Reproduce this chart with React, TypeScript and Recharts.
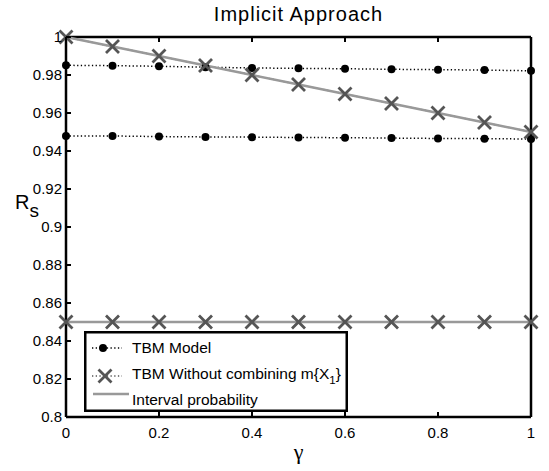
import { LineChart, Line, XAxis, YAxis, Legend } from 'recharts'

const gamma = [0, 0.1, 0.2, 0.3, 0.4, 0.5, 0.6, 0.7, 0.8, 0.9, 1]
const tbmUpper = [0.9851, 0.9849, 0.9846, 0.9841, 0.9837, 0.9835, 0.9833, 0.983, 0.9828, 0.9826, 0.9822]
const tbmLower = [0.9479, 0.9479, 0.9476, 0.9474, 0.9473, 0.9471, 0.947, 0.9468, 0.9466, 0.9465, 0.9463]
const withoutUpper = [1, 0.995, 0.99, 0.985, 0.98, 0.975, 0.97, 0.965, 0.96, 0.955, 0.95]
const withoutLower = [0.85, 0.85, 0.85, 0.85, 0.85, 0.85, 0.85, 0.85, 0.85, 0.85, 0.85]
const intervalUpper = [1, 0.995, 0.99, 0.985, 0.98, 0.975, 0.97, 0.965, 0.96, 0.955, 0.95]
const intervalLower = [0.85, 0.85, 0.85, 0.85, 0.85, 0.85, 0.85, 0.85, 0.85, 0.85, 0.85]

const xTicks = [0, 0.2, 0.4, 0.6, 0.8, 1]
const yTicks = [0.8, 0.82, 0.84, 0.86, 0.88, 0.9, 0.92, 0.94, 0.96, 0.98, 1]

const FONT = '"Liberation Sans", Arial, Helvetica, sans-serif'
const X_COLOR = '#555555'
const IP_COLOR = '#999999'
const DOTTED = '1.3 2.4'

const data = gamma.map((g, i) => ({
  g,
  tbmUpper: tbmUpper[i],
  tbmLower: tbmLower[i],
  withoutUpper: withoutUpper[i],
  withoutLower: withoutLower[i],
  intervalUpper: intervalUpper[i],
  intervalLower: intervalLower[i],
}))

const TICK_LEN = 5
const AXIS = { stroke: '#000', strokeWidth: 2.5 }

const LeftTick = ({ x, y, payload }: any) => (
  <g>
    <line x1={x} x2={x + TICK_LEN} y1={y} y2={y} stroke="#000" strokeWidth={2} />
    <text x={x - 4} y={y} dy="0.36em" textAnchor="end" fontSize={15} fontFamily={FONT} fill="#000">
      {String(payload.value)}
    </text>
  </g>
)

const RightTick = ({ x, y }: any) => (
  <line x1={x - TICK_LEN} x2={x} y1={y} y2={y} stroke="#000" strokeWidth={2} />
)

const BottomTick = ({ x, y, payload }: any) => (
  <g>
    <line x1={x} x2={x} y1={y} y2={y - TICK_LEN} stroke="#000" strokeWidth={2} />
    <text x={x} y={y + 21} textAnchor="middle" fontSize={15} fontFamily={FONT} fill="#000">
      {String(payload.value)}
    </text>
  </g>
)

const TopTick = ({ x, y }: any) => (
  <line x1={x} x2={x} y1={y} y2={y + TICK_LEN} stroke="#000" strokeWidth={2} />
)

const CrossDot = ({ cx, cy, index }: any) => (
  <path
    key={`x-${index}`}
    d={`M${cx - 6.5},${cy - 6.5}L${cx + 6.5},${cy + 6.5}M${cx + 6.5},${cy - 6.5}L${cx - 6.5},${cy + 6.5}`}
    stroke={X_COLOR}
    strokeWidth={2.8}
    fill="none"
  />
)

const LegendBox = () => (
  <svg width={264} height={81} style={{ display: 'block' }}>
    <rect x={1.25} y={1.25} width={261.5} height={78.5} fill="#fff" stroke="#000" strokeWidth={2.5} />
    <line x1={8} x2={38} y1={17} y2={17} stroke="#000" strokeWidth={1.5} strokeDasharray={DOTTED} />
    <circle cx={19} cy={17} r={4} fill="#000" />
    <text x={48} y={22} fontSize={15.5} fontFamily={FONT}>TBM Model</text>
    <line x1={8} x2={38} y1={45} y2={45} stroke={X_COLOR} strokeWidth={1.5} strokeDasharray={DOTTED} />
    <CrossDot cx={21} cy={45} index={0} />
    <text x={48} y={48} fontSize={15.5} fontFamily={FONT}>
      TBM Without combining m{'{'}X<tspan fontSize={11.5} dy={5}>1</tspan><tspan dy={-5}>{'}'}</tspan>
    </text>
    <line x1={9} x2={45} y1={63} y2={63} stroke={IP_COLOR} strokeWidth={2.5} />
    <text x={48} y={74} fontSize={15.5} fontFamily={FONT}>Interval probability</text>
  </svg>
)

export default function App() {
  return (
    <div style={{ position: 'absolute', left: 0, top: 0, background: '#fff' }}>
      <LineChart width={549} height={471} data={data} margin={{ top: 36, right: 17, left: 16, bottom: 24 }}>
        <XAxis
          dataKey="g"
          type="number"
          domain={[0, 1]}
          ticks={xTicks}
          tickSize={0}
          tickMargin={0}
          tick={<BottomTick />}
          axisLine={AXIS}
          height={30}
          label={{
            content: ({ viewBox }: any) => (
              <text
                x={viewBox.x + viewBox.width / 2}
                y={459}
                textAnchor="middle"
                fontSize={22}
                fontFamily='"Liberation Serif", "DejaVu Serif", serif'
              >
                γ
              </text>
            ),
          }}
        />
        <XAxis
          xAxisId="top"
          orientation="top"
          dataKey="g"
          type="number"
          domain={[0, 1]}
          ticks={xTicks}
          tickSize={0}
          tickMargin={0}
          tick={<TopTick />}
          axisLine={AXIS}
          height={1}
          label={{
            content: ({ viewBox }: any) => (
              <text
                x={viewBox.x + viewBox.width / 2}
                y={21}
                textAnchor="middle"
                fontSize={20}
                letterSpacing={1}
                fontFamily={FONT}
              >
                Implicit Approach
              </text>
            ),
          }}
        />
        <YAxis
          type="number"
          domain={[0.8, 1]}
          ticks={yTicks}
          tickSize={0}
          tickMargin={0}
          tick={<LeftTick />}
          axisLine={AXIS}
          width={50}
          label={{
            content: ({ viewBox }: any) => (
              <text x={viewBox.x - 1} y={viewBox.y + viewBox.height / 2 - 18} fontSize={20} fontFamily={FONT}>
                R<tspan fontSize={19} dy={8}>s</tspan>
              </text>
            ),
          }}
        />
        <YAxis
          yAxisId="right"
          orientation="right"
          type="number"
          domain={[0.8, 1]}
          ticks={yTicks}
          tickSize={0}
          tickMargin={0}
          tick={<RightTick />}
          axisLine={AXIS}
          width={1}
        />
        <Legend
          content={<LegendBox />}
          layout="horizontal"
          verticalAlign="middle"
          align="center"
          wrapperStyle={{ left: 84, top: 331, width: 264, height: 81 }}
        />
        <Line dataKey="tbmUpper" stroke="#000" strokeWidth={1.5} strokeDasharray={DOTTED}
          dot={{ r: 4, fill: '#000', stroke: 'none', strokeDasharray: '' }} isAnimationActive={false} zIndex={600} />
        <Line dataKey="tbmLower" stroke="#000" strokeWidth={1.5} strokeDasharray={DOTTED}
          dot={{ r: 4, fill: '#000', stroke: 'none', strokeDasharray: '' }} isAnimationActive={false} zIndex={600} />
        <Line dataKey="withoutUpper" stroke={X_COLOR} strokeWidth={1.5} strokeDasharray={DOTTED}
          dot={<CrossDot />} isAnimationActive={false} zIndex={600} />
        <Line dataKey="withoutLower" stroke={X_COLOR} strokeWidth={1.5} strokeDasharray={DOTTED}
          dot={<CrossDot />} isAnimationActive={false} zIndex={600} />
        <Line dataKey="intervalUpper" stroke={IP_COLOR} strokeWidth={2.5} dot={false} isAnimationActive={false} zIndex={600} />
        <Line dataKey="intervalLower" stroke={IP_COLOR} strokeWidth={2.5} dot={false} isAnimationActive={false} zIndex={600} />
      </LineChart>
    </div>
  )
}
